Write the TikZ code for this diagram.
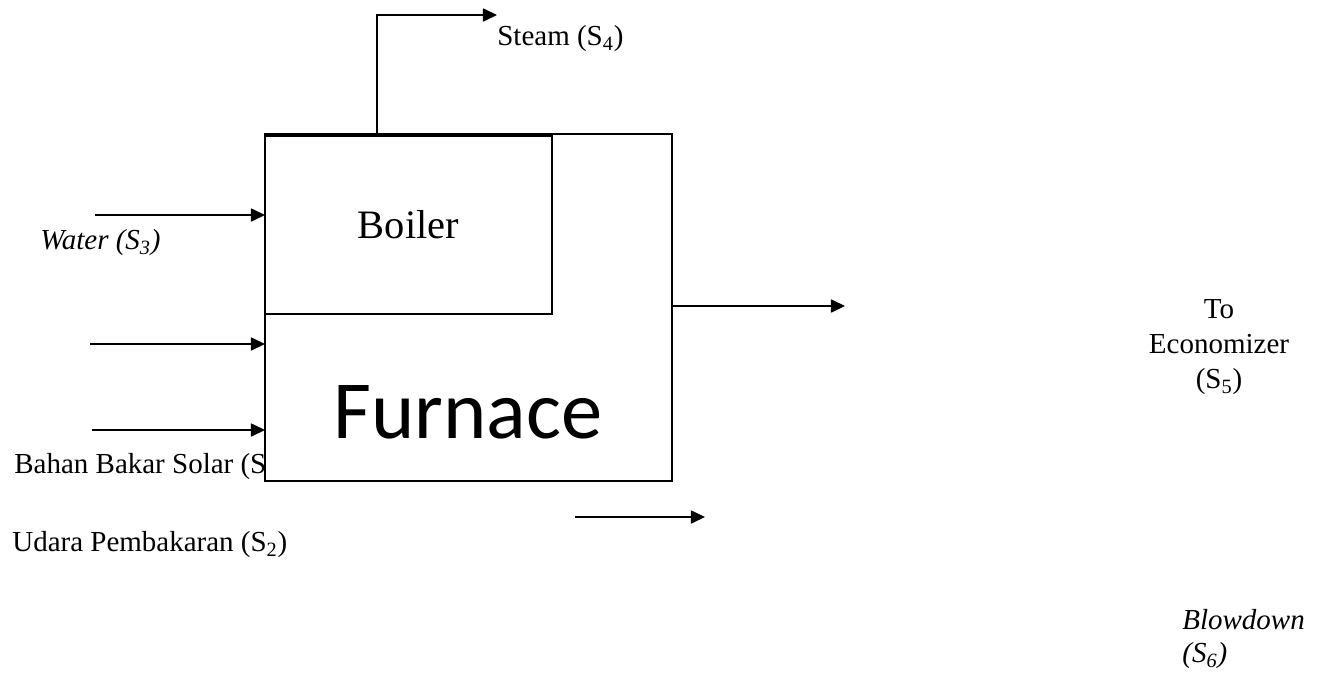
\documentclass[tikz,border=0pt]{standalone}
\usepackage{fontspec}
\setmainfont{Liberation Serif}
\newfontfamily\boxfont{Carlito}
\usetikzlibrary{arrows.meta}

\begin{document}
\begin{tikzpicture}[
  x=0.02cm, y=-0.02cm,
  unit/.style={rectangle, draw=black, line width=1.1pt, fill=white,
               inner sep=0pt, outer sep=0pt},
  flow/.style={-{Triangle[length=8pt,width=7.5pt]}, line width=0.7pt},
  lbl/.style={font=\fontsize{16.5}{20}\selectfont, inner sep=0pt, align=center},
  ilbl/.style={font=\fontsize{16.5}{19}\selectfont\itshape, inner sep=0pt, align=left},
]
  \useasboundingbox (0,0) rectangle (1322,673);
  % fuel label sits under the furnace, which cuts its end
  \node[lbl, anchor=west] (fuel) at (14,467) {Bahan Bakar Solar (S};
  \node[unit, anchor=north west, minimum width=8.14cm, minimum height=6.94cm] (furnace) at (265,134) {};
  \node[unit, anchor=north west, minimum width=5.74cm, minimum height=3.56cm,
        font=\fontsize{23}{26}\selectfont] (boiler) at (265,136) {Boiler};
  \node[font=\boxfont\fontsize{47}{50}\selectfont] (ftext) at (468,412) {Furnace};

  % inlets
  \coordinate (win) at (95,215);
  \coordinate (fin) at (90,344);
  \coordinate (ain) at (92,430);
  \draw[flow] (win) -- (win -| furnace.west);
  \draw[flow] (fin) -- (fin -| furnace.west);
  \draw[flow] (ain) -- (ain -| furnace.west);
  \node[ilbl, anchor=west] (water) at (40,243) {Water (S\textsubscript{3})};
  \node[lbl, anchor=west] (air) at (12,545) {Udara Pembakaran (S\textsubscript{2})};

  % outlets
  \coordinate (st) at (497,15);
  \draw[flow] ([xshift=2.24cm]boiler.north west) |- (st);
  \node[lbl, anchor=west] (steam) at (497,39) {Steam (S\textsubscript{4})};
  \coordinate (eco) at (845,306);
  \draw[flow] (furnace.east |- eco) -- (eco);
  \node[lbl] (ecolbl) at (1219,347) {To\\Economizer\\(S\textsubscript{5})};
  \coordinate (bd0) at (575,517);
  \coordinate (bd1) at (705,517);
  \draw[flow] (bd0) -- (bd1);
  \node[ilbl, anchor=west] (blow) at (1182,639) {Blowdown\\(S\textsubscript{6})};
\end{tikzpicture}
\end{document}
